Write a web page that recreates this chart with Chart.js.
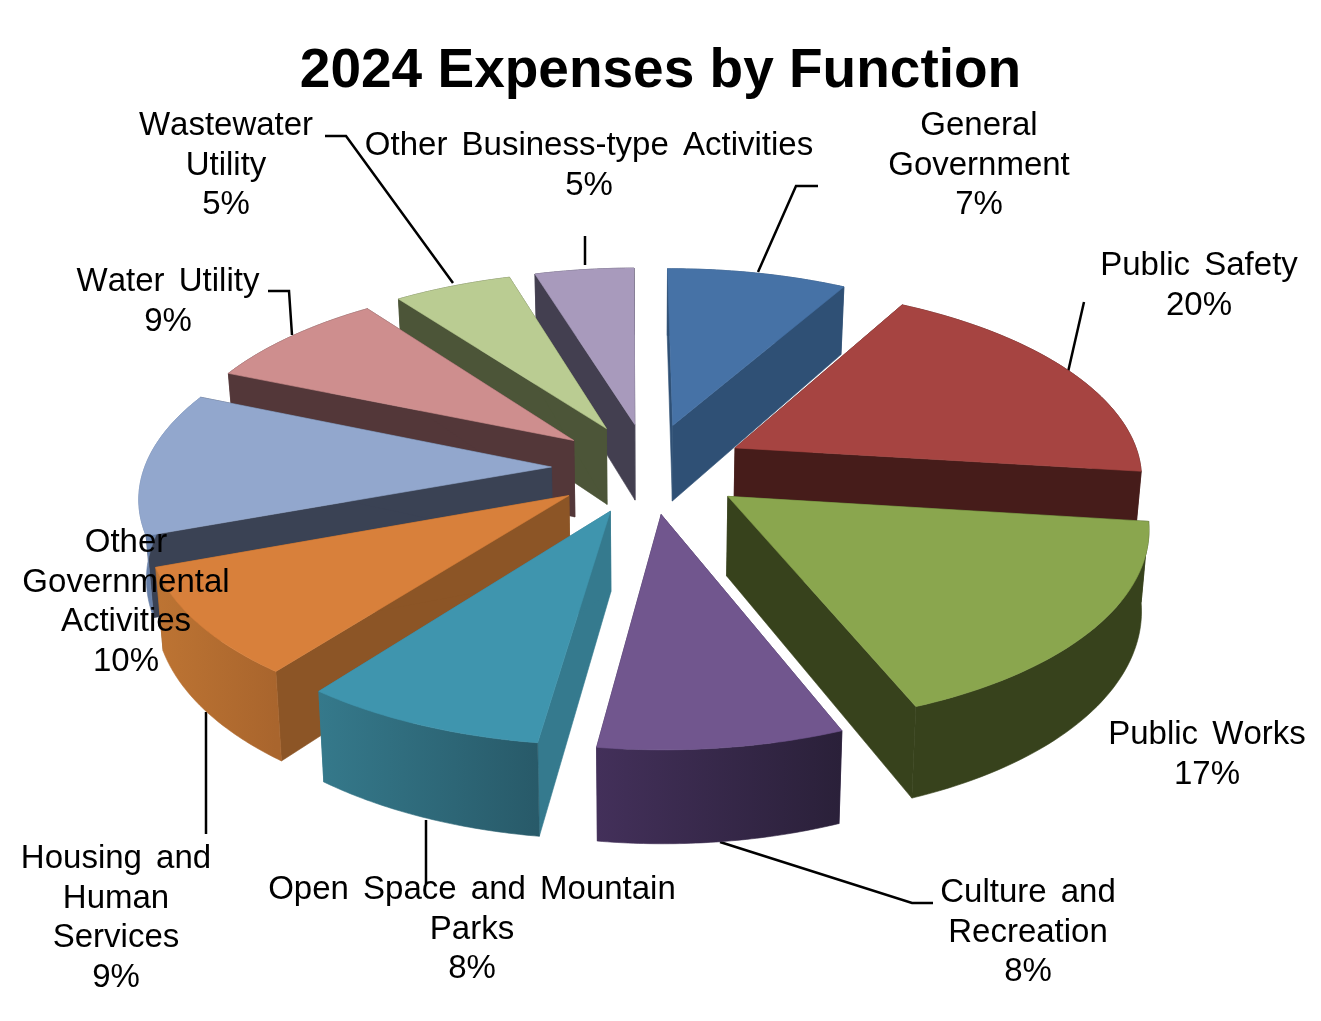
<!DOCTYPE html>
<html><head><meta charset="utf-8">
<style>html,body{margin:0;padding:0;background:#fff}canvas{display:block}</style>
<script src="https://cdn.jsdelivr.net/npm/chart.js@4"></script>
</head><body>
<canvas id="c" width="1321" height="1021" style="width:1321px;height:1021px"></canvas>
<script>
// ---- data ----
const categories = ["General Government","Public Safety","Public Works","Culture and Recreation","Open Space and Mountain Parks","Housing and Human Services","Other Governmental Activities","Water Utility","Wastewater Utility","Other Business-type Activities"];
const values = [7,20,17,8,8,9,10,9,5,5];
// ---- style ----
const topColors  = ["#4672A6","#A64441","#8AA64E","#71568E","#3F95AE","#D8803B","#92A7CD","#CE8E8E","#BACC92","#A89ABC"];
const sideColors = ["#2F5075","#461C1A","#37421C","#3C2C52","#357A8E","#8C5526","#3A4254","#533739","#4C5538","#433F50"];
const rimStart   = ["#2F5075","#461C1A","#37421C","#43305A","#35798B","#BD7433","#6880A8","#533739","#4C5538","#433F50"];
const rimEnd     = ["#2F5075","#461C1A","#37421C","#2A2039","#285A69","#A9652D","#6880A8","#533739","#4C5538","#433F50"];
// ---- layout of texts and leaders ----
const labelLines = [["General","Government"],["Public Safety"],["Public Works"],["Culture and","Recreation"],["Open Space and Mountain","Parks"],["Housing and","Human","Services"],["Other","Governmental","Activities"],["Water Utility"],["Wastewater","Utility"],["Other Business-type Activities"]];
const labelX = [979,1199,1207,1028,472,116,126,168,226,589];
const labelY = [135,275,744,902,899,868,552,291,135,155];
const leaderLines = [[[758,272],[796,186],[818,186]],[[1068,372],[1084,302]],null,[[720,842],[912,903],[933,903]],[[426,820],[426,884]],[[206,712],[206,834]],null,[[292,335],[289,291],[268,291]],[[453,283],[346,136],[325,136]],[[585,265],[585,236]]];
// camera of the 3-D view; angleWarp is the angular distortion (degrees) of the view at each slice boundary
const view = {cx:649, cy:468, B:407, A:189, persp:0.137, H:78, explode:0.24, bottomShrink:0.985};
const angleWarp = [-0.4,3.7,-2.0,-3.3,-3.2,-3.1,-3.8,2.7,0.3,1.5,-0.4];
const labelFont = '33px "Liberation Sans"';

function project(X,Y,bottom){
  const s = 1/(1-view.persp*Y);
  let x = view.cx + view.B*X*s, y = view.cy + view.A*Y*s;
  if(bottom){ x = view.cx + (x-view.cx)*view.bottomShrink; y += view.H*s; }
  return [x,y];
}
function poly(ctx,pts,fill){
  ctx.beginPath(); pts.forEach((p,i)=> i?ctx.lineTo(p[0],p[1]):ctx.moveTo(p[0],p[1])); ctx.closePath();
  ctx.fillStyle=fill; ctx.fill(); ctx.strokeStyle=fill; ctx.lineWidth=0.6; ctx.stroke();
}
const pie3d = {
  id:'pie3d',
  beforeDatasetsDraw(){ return false; },
  afterDraw(chart){
    const ctx = chart.ctx, meta = chart.getDatasetMeta(0);
    const rad = Math.PI/180;
    const items = meta.data.map((el,i)=>{
      const a0=el.startAngle+angleWarp[i]*rad,a1=el.endAngle+angleWarp[i+1]*rad,m=(a0+a1)/2;
      const ox=view.explode*Math.cos(m), oy=view.explode*Math.sin(m);
      const rim=[]; const n=48;
      for(let k=0;k<=n;k++){const a=a0+(a1-a0)*k/n; rim.push([ox+Math.cos(a),oy+Math.sin(a)]);}
      return {i,ox,oy,rim,depth:Math.sin(m)};
    }).sort((p,q)=>p.depth-q.depth);
    ctx.save();
    // leaders sit behind the solid pie
    ctx.strokeStyle='#000'; ctx.lineWidth=2.5; ctx.lineJoin='miter';
    leaderLines.forEach(l=>{ if(!l) return; ctx.beginPath(); l.forEach((p,k)=>k?ctx.lineTo(p[0],p[1]):ctx.moveTo(p[0],p[1])); ctx.stroke(); });
    for(const it of items){
      const {i,ox,oy,rim}=it;
      const apexT=project(ox,oy,false), apexB=project(ox,oy,true);
      const topRim=rim.map(p=>project(p[0],p[1],false)), botRim=rim.map(p=>project(p[0],p[1],true));
      const last=rim.length-1;
      poly(ctx,[apexT,topRim[0],botRim[0],apexB],sideColors[i]);
      poly(ctx,[apexT,topRim[last],botRim[last],apexB],sideColors[i]);
      const xs=topRim.map(p=>p[0]);
      const g=ctx.createLinearGradient(Math.min(...xs),0,Math.max(...xs),0);
      g.addColorStop(0,rimStart[i]); g.addColorStop(1,rimEnd[i]);
      poly(ctx,topRim.concat(botRim.slice().reverse()),g);
      poly(ctx,[apexT].concat(topRim),topColors[i]);
    }
    // labels
    ctx.fillStyle='#000'; ctx.font=labelFont; ctx.textAlign='center'; ctx.textBaseline='alphabetic';
    if('wordSpacing' in ctx) ctx.wordSpacing='5px';
    if('fontKerning' in ctx) ctx.fontKerning='none';
    categories.forEach((c,i)=>{
      const lines=labelLines[i].concat([values[i]+"%"]);
      lines.forEach((t,k)=>ctx.fillText(t,labelX[i],labelY[i]+k*39.7));
    });
    ctx.restore();
  }
};
new Chart(document.getElementById('c'),{
  type:'pie',
  data:{labels:categories,datasets:[{data:values,backgroundColor:topColors,borderWidth:0}]},
  options:{
    responsive:false,animation:false,rotation:0,
    layout:{padding:0},
    plugins:{
      legend:{display:false},tooltip:{enabled:false},
      title:{display:true,text:"2024 Expenses by Function",color:'#000',
        font:{family:'"Liberation Sans"',size:55,weight:'bold'},padding:{top:39,bottom:10}}
    }
  },
  plugins:[pie3d]
});
</script>
</body></html>
